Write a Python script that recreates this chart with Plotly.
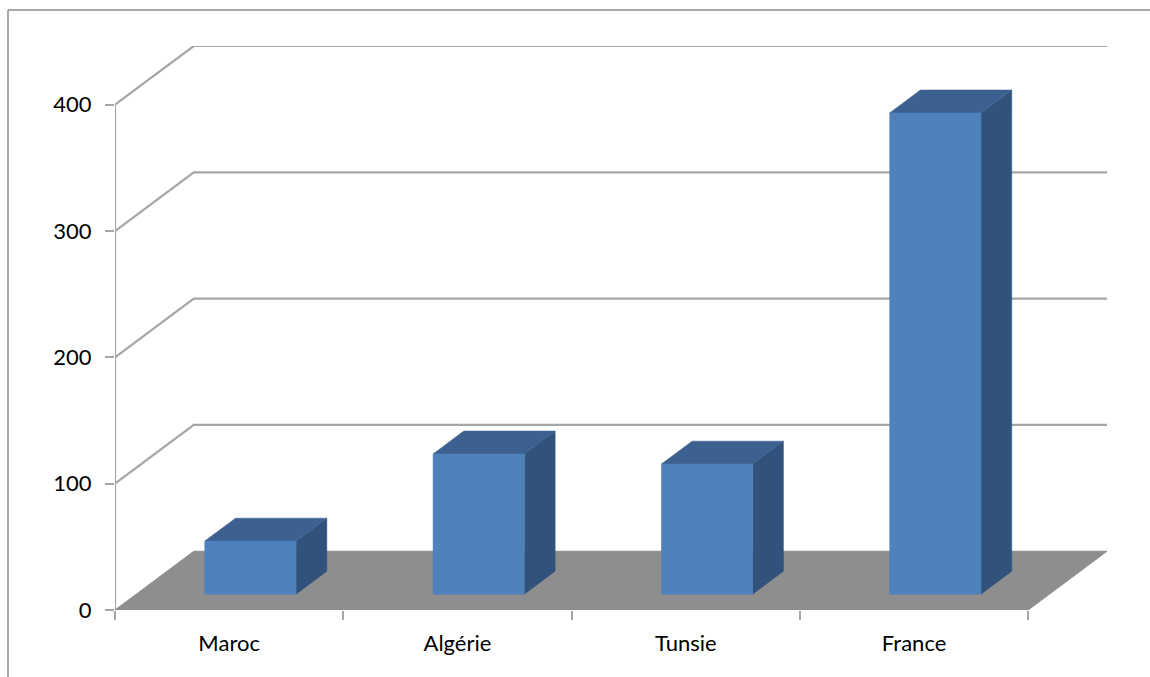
import plotly.graph_objects as go

# ---- data ----
categories = ["Maroc", "Algérie", "Tunsie", "France"]
values = [42, 111, 103, 381]
y_ticks = [0, 100, 200, 300, 400]

# ---- oblique 3D projection constants (in axis units) ----
DX = 0.345      # depth shift along x (category units)
DY = 46.5       # depth shift along y (value units)
F0, F1 = 0.27, 0.66   # bar front/back depth fractions
HALF_W = 0.2          # half bar width (category units)

GRID = "#a6a6a6"
FLOOR = "#8e8e8e"
FRONT = "#4f81bd"
TOP = "#3c6190"
SIDE = "#31527b"

n = len(categories)
fig = go.Figure()

# back wall + side wall gridlines
gx, gy = [], []
for v in y_ticks[1:]:
    gx += [0, DX, n + DX, None]
    gy += [v, v + DY, v + DY, None]
fig.add_trace(go.Scatter(x=gx, y=gy, mode="lines", line=dict(color=GRID, width=2.2),
                         hoverinfo="skip", showlegend=False))

# front vertical axis line
fig.add_trace(go.Scatter(x=[0, 0], y=[0, y_ticks[-1]], mode="lines",
                         line=dict(color=GRID, width=2.2), hoverinfo="skip", showlegend=False))

# floor
fig.add_trace(go.Scatter(x=[0, n, n + DX, DX, 0], y=[0, 0, DY, DY, 0], mode="lines",
                         fill="toself", fillcolor=FLOOR, line=dict(color=FLOOR, width=1),
                         hoverinfo="skip", showlegend=False))

def poly(xs, ys, color):
    fig.add_trace(go.Scatter(x=xs + [xs[0]], y=ys + [ys[0]], mode="lines", fill="toself",
                             fillcolor=color, line=dict(color=color, width=0.5),
                             hoverinfo="skip", showlegend=False))

dd_x = (F1 - F0) * DX
dd_y = (F1 - F0) * DY
for i, v in enumerate(values):
    xl = i + 0.5 - HALF_W + F0 * DX
    xr = i + 0.5 + HALF_W + F0 * DX
    yb = F0 * DY
    yt = v + F0 * DY
    # side face
    poly([xr, xr, xr + dd_x, xr + dd_x], [yb, yt, yt + dd_y, yb + dd_y], SIDE)
    # top face
    poly([xl, xr, xr + dd_x, xl + dd_x], [yt, yt, yt + dd_y, yt + dd_y], TOP)
    # front face
    poly([xl, xr, xr, xl], [yb, yb, yt, yt], FRONT)

fig.update_layout(
    width=1150, height=677,
    margin=dict(l=115, r=43, t=46, b=67, autoexpand=False),
    paper_bgcolor="white", plot_bgcolor="white",
    font=dict(family="Lato, Open Sans, sans-serif", size=22, color="#000000"),
    showlegend=False,
    xaxis=dict(range=[0, n + DX], tickvals=[i + 0.5 for i in range(n)], ticktext=categories,
               ticks="", showgrid=False, zeroline=False, showline=False, fixedrange=True,
               automargin=False, ticklabelstandoff=18,
               minor=dict(tickvals=list(range(n + 1)), ticks="outside", ticklen=9,
                          tickwidth=1.5, tickcolor=GRID, showgrid=False)),
    yaxis=dict(range=[0, y_ticks[-1] + DY], tickvals=y_ticks, ticks="outside", ticklen=9,
               tickwidth=1.5, tickcolor=GRID, showgrid=False, zeroline=False, showline=False,
               fixedrange=True, automargin=False, ticklabelstandoff=9),
    shapes=[dict(type="line", xref="paper", yref="paper", x0=(8 - 115) / 992, x1=1.2,
                 y0=(677 - 67 - 10) / 564, y1=(677 - 67 - 10) / 564,
                 line=dict(color="#8c8c8c", width=1.5)),
            dict(type="line", xref="paper", yref="paper", x0=(8 - 115) / 992, x1=(8 - 115) / 992,
                 y0=(677 - 67 - 10) / 564, y1=-0.2,
                 line=dict(color="#8c8c8c", width=1.5))],
)

fig.write_html("out.html")
